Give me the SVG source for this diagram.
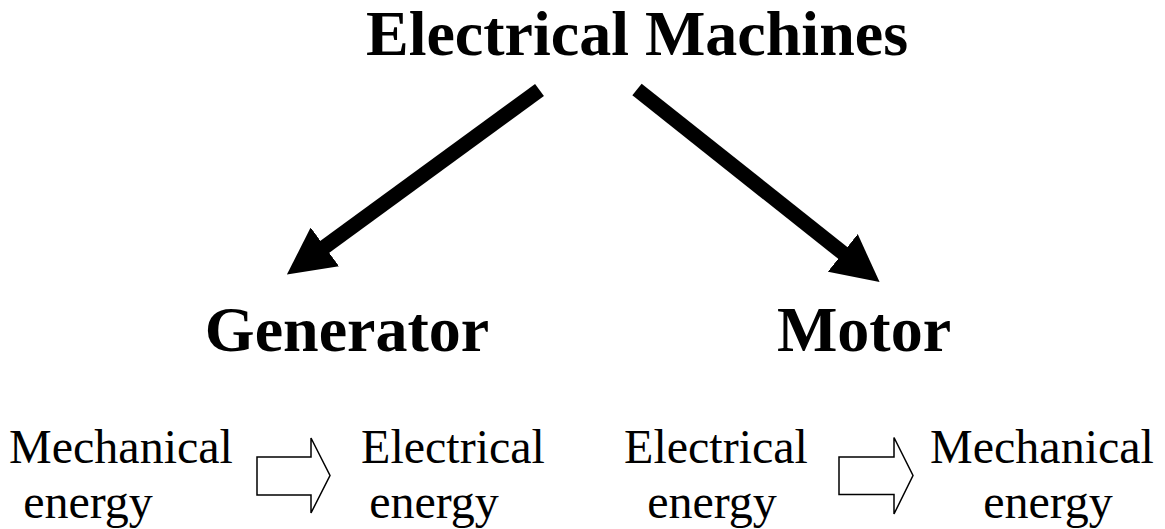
<svg xmlns="http://www.w3.org/2000/svg" width="1165" height="529" viewBox="0 0 1165 529">
  <style>
    .t { font-family: "Liberation Serif", "Times New Roman", serif; fill: #000; }
    .b { font-weight: bold; font-size: 64px; text-anchor: middle; }
    .r { font-size: 48px; text-anchor: middle; }
    .thick { stroke: #000; stroke-width: 15; fill: none; marker-end: url(#head); }
    .hollow { fill: #fff; stroke: #000; stroke-width: 1.5; stroke-linejoin: miter; }
  </style>
  <defs>
    <marker id="head" markerUnits="userSpaceOnUse" viewBox="0 0 47 48" refX="5" refY="24" markerWidth="47" markerHeight="48" orient="auto">
      <path d="M0,0 L47,24 L0,48 Z" fill="#000"/>
    </marker>
  </defs>
  <rect width="1165" height="529" fill="#fff"/>

  <g id="node-electrical-machines">
    <text class="t b" x="637" y="55">Electrical Machines</text>
  </g>
  <g id="node-generator">
    <text class="t b" x="347" y="351">Generator</text>
  </g>
  <g id="node-motor">
    <text class="t b" x="864" y="351">Motor</text>
  </g>

  <g id="node-gen-input">
    <text class="t r" x="121" y="463">Mechanical</text>
    <text class="t r" x="88" y="518">energy</text>
  </g>
  <g id="node-gen-output">
    <text class="t r" x="453" y="463">Electrical</text>
    <text class="t r" x="434" y="518">energy</text>
  </g>
  <g id="node-motor-input">
    <text class="t r" x="716" y="463">Electrical</text>
    <text class="t r" x="712" y="518">energy</text>
  </g>
  <g id="node-motor-output">
    <text class="t r" x="1042" y="463">Mechanical</text>
    <text class="t r" x="1048" y="518">energy</text>
  </g>

  <g id="connectors">
    <line class="thick" x1="539.5" y1="90" x2="320.8" y2="249.8"/>
    <line class="thick" x1="637" y1="89.5" x2="846.7" y2="256"/>
    <path class="hollow" d="M257,457 H311 V438 L330,475.5 L311,513 V495 H257 Z"/>
    <path class="hollow" d="M839,457 H894 V437.5 L913,475.5 L894,514 V494.5 H839 Z"/>
  </g>
</svg>
